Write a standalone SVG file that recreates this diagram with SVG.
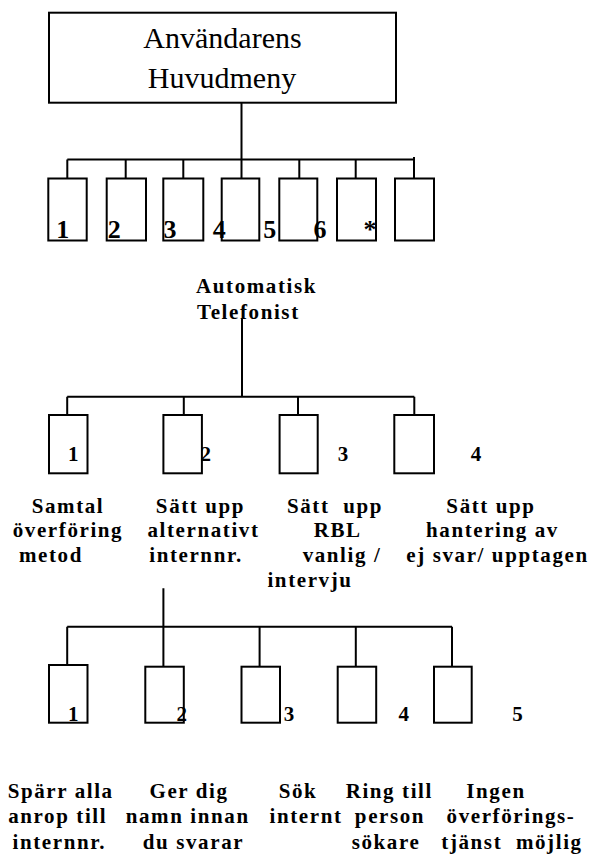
<svg xmlns="http://www.w3.org/2000/svg" width="591" height="855" viewBox="0 0 591 855">
<style>
  .box { fill: #fff; stroke: #000; stroke-width: 2; }
  .ln { fill: none; stroke: #000; stroke-width: 2; }
  .title { font-family: "Liberation Serif", "Times New Roman", serif; font-size: 30px; fill: #000; text-anchor: middle; }
  .num1 { font-family: "Liberation Serif", "Times New Roman", serif; font-size: 26px; font-weight: bold; fill: #000; text-anchor: middle; }
  .num { font-family: "Liberation Serif", "Times New Roman", serif; font-size: 21px; font-weight: bold; fill: #000; text-anchor: middle; }
  .lbl { font-family: "Liberation Serif", "Times New Roman", serif; font-size: 21px; font-weight: bold; fill: #000; text-anchor: middle; letter-spacing: 1.6px; }
  .lbls { font-family: "Liberation Serif", "Times New Roman", serif; font-size: 21px; font-weight: bold; fill: #000; letter-spacing: 1.6px; }
</style>
<rect width="591" height="855" fill="#fff"/>

<g id="connectors">
  <path class="ln" d="M241.5,102.7 V159.5 M67.3,159.5 H414 M67.3,159.5 V178.5 M125.7,159.5 V178.5 M183.3,159.5 V178.5 M241.5,159.5 V178.5 M299.3,159.5 V178.5 M355.7,159.5 V178.5 M414,157 V178.5"/>
  <path class="ln" d="M242,318 V396.7 M67.2,396.7 H414.3 M67.2,396.7 V415 M183.8,396.7 V415 M298,396.7 V415 M414.3,396.7 V415"/>
  <path class="ln" d="M163.4,588.3 V626.7 M67.2,626.7 H452 M67.2,626.7 V668 M163.4,626.7 V666.7 M259.6,626.7 V666.7 M355.8,626.7 V666.7 M452,626.7 V666.7"/>
</g>

<g id="main-menu">
  <rect class="box" x="49" y="12.7" width="347" height="90"/>
  <text class="title" x="222.5" y="48.3">Användarens</text>
  <text class="title" x="222" y="88.3">Huvudmeny</text>
</g>

<g id="menu-1"><rect class="box" x="48.3" y="178.5" width="38.4" height="62"/><text class="num1" x="62.8" y="238.3">1</text></g>
<g id="menu-2"><rect class="box" x="106.7" y="178.5" width="39.3" height="62"/><text class="num1" x="114.2" y="238.3">2</text></g>
<g id="menu-3"><rect class="box" x="163.3" y="178.5" width="40" height="62"/><text class="num1" x="170" y="238.3">3</text></g>
<g id="menu-4"><rect class="box" x="221.7" y="178.5" width="37.6" height="62"/><text class="num1" x="219.3" y="238.3">4</text></g>
<g id="menu-5"><rect class="box" x="279.3" y="178.5" width="38" height="62"/><text class="num1" x="269.7" y="238.3">5</text></g>
<g id="menu-6"><rect class="box" x="337" y="178.5" width="39" height="62"/><text class="num1" x="320" y="238.3">6</text></g>
<g id="menu-star"><rect class="box" x="395" y="178.5" width="39" height="62"/><text class="num1" x="370" y="238.3">*</text></g>

<g id="automatisk-telefonist">
  <text class="lbls" x="196" y="292.5">Automatisk</text>
  <text class="lbls" x="197" y="319">Telefonist</text>
</g>

<g id="at-1">
  <rect class="box" x="49" y="415" width="38.5" height="58.3"/>
  <text class="num" x="73.2" y="460.7">1</text>
  <text class="lbl" x="68" y="512.7">Samtal</text>
  <text class="lbl" x="68" y="537">överföring</text>
  <text class="lbl" x="51" y="562">metod</text>
</g>
<g id="at-2">
  <rect class="box" x="163.4" y="415" width="38.5" height="58.3"/>
  <text class="num" x="205.8" y="460.7">2</text>
  <text class="lbl" x="200.5" y="512.7">Sätt upp</text>
  <text class="lbl" x="203.5" y="537">alternativt</text>
  <text class="lbl" x="196" y="562">internnr.</text>
</g>
<g id="at-3">
  <rect class="box" x="279.6" y="415" width="38.1" height="58.3"/>
  <text class="num" x="343" y="460.7">3</text>
  <text class="lbl" x="335" y="512.7" xml:space="preserve">Sätt  upp</text>
  <text class="lbl" x="337.7" y="537">RBL</text>
  <text class="lbl" x="342" y="562">vanlig /</text>
  <text class="lbl" x="310" y="587">intervju</text>
</g>
<g id="at-4">
  <rect class="box" x="394.3" y="415" width="39.7" height="58.3"/>
  <text class="num" x="476" y="460.7">4</text>
  <text class="lbl" x="491" y="512.7">Sätt upp</text>
  <text class="lbl" x="492.5" y="537">hantering av</text>
  <text class="lbl" x="497.5" y="562">ej svar/ upptagen</text>
</g>

<g id="alt-1">
  <rect class="box" x="49" y="665" width="38.5" height="57.7"/>
  <text class="num" x="73.2" y="721">1</text>
  <text class="lbl" x="60.7" y="798.3">Spärr alla</text>
  <text class="lbl" x="57.7" y="823.3">anrop till</text>
  <text class="lbl" x="59.3" y="849.3">internnr.</text>
</g>
<g id="alt-2">
  <rect class="box" x="145.3" y="666.7" width="38.5" height="56"/>
  <text class="num" x="181.7" y="721">2</text>
  <text class="lbl" x="189" y="798.3">Ger dig</text>
  <text class="lbl" x="187.7" y="823.3">namn innan</text>
  <text class="lbl" x="193.5" y="849.3">du svarar</text>
</g>
<g id="alt-3">
  <rect class="box" x="241.5" y="666.7" width="38.5" height="56"/>
  <text class="num" x="289" y="721">3</text>
  <text class="lbl" x="298" y="798.3">Sök</text>
  <text class="lbl" x="306" y="823.3">internt</text>
</g>
<g id="alt-4">
  <rect class="box" x="337.7" y="666.7" width="38.5" height="56"/>
  <text class="num" x="403.7" y="721">4</text>
  <text class="lbl" x="389.3" y="798.3">Ring till</text>
  <text class="lbl" x="390" y="823.3">person</text>
  <text class="lbl" x="386" y="849.3">sökare</text>
</g>
<g id="alt-5">
  <rect class="box" x="434" y="666.7" width="37.7" height="56"/>
  <text class="num" x="517.4" y="721">5</text>
  <text class="lbl" x="496" y="798.3">Ingen</text>
  <text class="lbl" x="511" y="823.3">överförings-</text>
  <text class="lbl" x="512" y="849.3" xml:space="preserve">tjänst  möjlig</text>
</g>
</svg>
